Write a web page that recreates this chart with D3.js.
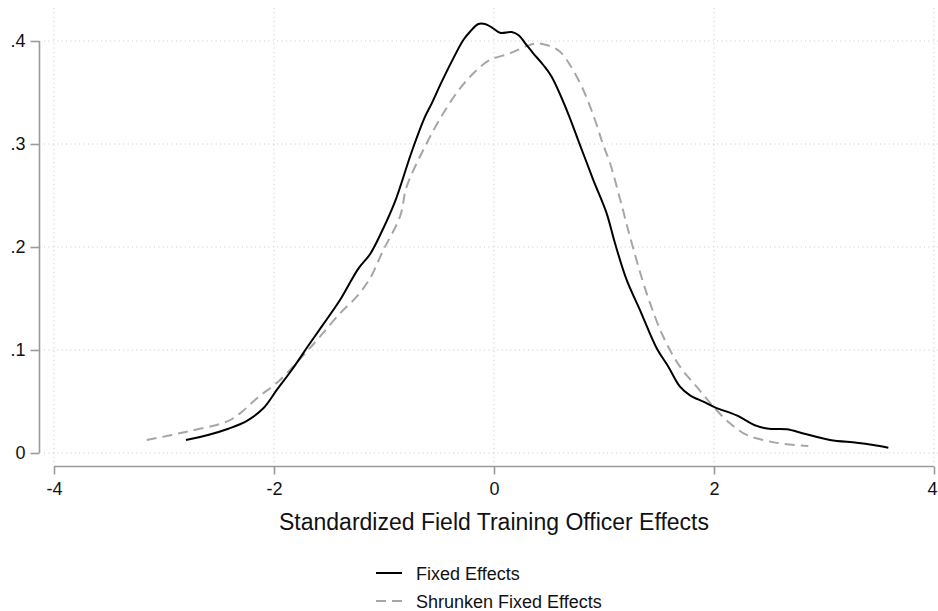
<!DOCTYPE html>
<html>
<head>
<meta charset="utf-8">
<script src="https://cdn.jsdelivr.net/npm/d3@7"></script>
<style>
  html, body { margin: 0; padding: 0; background: #fff; }
  svg { display: block; font-family: "Liberation Sans", Arial, sans-serif; }
</style>
</head>
<body>
<svg id="chart" width="938" height="611"></svg>
<script>
// ---- data ----
const xTicks = [-4, -2, 0, 2, 4];
const xTickLabels = ["-4", "-2", "0", "2", "4"];
const yTicks = [0, 0.1, 0.2, 0.3, 0.4];
const yTickLabels = ["0", ".1", ".2", ".3", ".4"];
const xTitle = "Standardized Field Training Officer Effects";
const seriesNames = ["Fixed Effects", "Shrunken Fixed Effects"];

const fixedX = [-2.80, -2.60, -2.415, -2.25, -2.097, -1.976, -1.839, -1.673, -1.567, -1.40, -1.233, -1.127, -1.02, -0.90,
  -0.748, -0.627, -0.566, -0.475, -0.385, -0.279, -0.218, -0.142, -0.082, -0.021, 0.055, 0.161, 0.221, 0.297,
  0.357, 0.448, 0.524, 0.661, 0.782, 0.903, 1.024, 1.10, 1.206, 1.327, 1.479, 1.585, 1.691, 1.782, 1.903,
  2.009, 2.206, 2.388, 2.50, 2.661, 2.812, 3.055, 3.297, 3.448, 3.585];
const fixedY = [0.0126, 0.0175, 0.0236, 0.031, 0.0434, 0.061, 0.0806, 0.1065, 0.1227, 0.1485, 0.179, 0.193, 0.215, 0.244,
  0.2925, 0.3265, 0.3395, 0.3605, 0.380, 0.401, 0.409, 0.4165, 0.4165, 0.4133, 0.408, 0.4087, 0.4058, 0.396,
  0.388, 0.3767, 0.3653, 0.333, 0.299, 0.265, 0.2327, 0.2036, 0.168, 0.1388, 0.1017, 0.0838, 0.0644, 0.056, 0.0498,
  0.0443, 0.0365, 0.0263, 0.0235, 0.023, 0.019, 0.0126, 0.010, 0.0078, 0.0052];

const shrunkX = [-3.157, -2.794, -2.43, -2.309, -2.157, -1.945, -1.703, -1.582, -1.40, -1.248, -1.127, -1.006,
  -0.855, -0.794, -0.612, -0.461, -0.309, -0.157, -0.036, 0.145, 0.297, 0.388, 0.509, 0.60, 0.691, 0.812,
  0.918, 0.99, 1.055, 1.15, 1.236, 1.388, 1.539, 1.691, 1.842, 1.994, 2.145, 2.297, 2.448, 2.60, 2.857];
const shrunkY = [0.0126, 0.0207, 0.0304, 0.0385, 0.053, 0.0709, 0.0984, 0.1129, 0.1356, 0.1518, 0.1696, 0.197,
  0.2294, 0.2585, 0.3007, 0.3298, 0.354, 0.3718, 0.3816, 0.388, 0.395, 0.3977, 0.395, 0.3896, 0.3767, 0.3524,
  0.3233, 0.30, 0.2813, 0.245, 0.21, 0.155, 0.1129, 0.0838, 0.0644, 0.045, 0.0288, 0.0175, 0.0126, 0.0094, 0.0068];

// ---- layout ----
const svg = d3.select("#chart");
const x = d3.scaleLinear().domain([-4, 4]).range([54, 934]);
const y = d3.scaleLinear().domain([0, 0.4]).range([453, 41]);

const gridColor = "#c8c8c8";
const axisColor = "#9a9a9a";
const fontStack = "'Liberation Sans', Arial, sans-serif";

// gridlines
const grid = svg.append("g");
grid.selectAll("line.h").data(yTicks).enter().append("line")
  .attr("x1", 44).attr("x2", 938)
  .attr("y1", d => y(d)).attr("y2", d => y(d))
  .attr("stroke", gridColor).attr("stroke-width", 1).attr("stroke-dasharray", "1,3.4");
grid.selectAll("line.v").data(xTicks).enter().append("line")
  .attr("y1", 8).attr("y2", 463)
  .attr("x1", d => x(d)).attr("x2", d => x(d))
  .attr("stroke", gridColor).attr("stroke-width", 1).attr("stroke-dasharray", "1,3.4");

// y axis
const yAxis = d3.axisLeft(y).tickValues(yTicks).tickSize(9).tickPadding(5)
  .tickFormat((d, i) => yTickLabels[i]);
const gy = svg.append("g").attr("transform", "translate(39.5,0)").call(yAxis);
gy.select(".domain").attr("d", `M0,${y(0.4)}V${y(0)}`);

// x axis
const xAxis = d3.axisBottom(x).tickValues(xTicks).tickSize(8).tickPadding(8)
  .tickFormat((d, i) => xTickLabels[i]);
const gx = svg.append("g").attr("transform", "translate(0,466.5)").call(xAxis);
gx.select(".domain").attr("d", `M${x(-4)},0H${x(4)}`);

[gx, gy].forEach(g => {
  g.select(".domain").attr("stroke", axisColor).attr("stroke-width", 1.6).attr("fill", "none");
  g.selectAll(".tick line").attr("stroke", axisColor).attr("stroke-width", 1.6);
  g.selectAll(".tick text").attr("fill", "#111").style("font-size", "18px")
    .style("font-family", fontStack);
});
// keep the last x label inside the canvas edge
gx.selectAll(".tick text").filter(d => d === 4).attr("dx", -2);

// x title
svg.append("text").attr("x", 494).attr("y", 530).attr("text-anchor", "middle")
  .style("font-size", "23px").style("font-family", fontStack).attr("fill", "#111").text(xTitle);

// lines
const line = d3.line().x(d => x(d[0])).y(d => y(d[1])).curve(d3.curveCatmullRom.alpha(0.5));
const shrunkData = shrunkX.map((v, i) => [v, shrunkY[i]]);
const fixedData = fixedX.map((v, i) => [v, fixedY[i]]);

svg.append("path").datum(shrunkData).attr("d", line)
  .attr("fill", "none").attr("stroke", "#a6a6a6").attr("stroke-width", 2)
  .attr("stroke-dasharray", "10,6");
svg.append("path").datum(fixedData).attr("d", line)
  .attr("fill", "none").attr("stroke", "#000").attr("stroke-width", 2);

// legend
const legend = svg.append("g");
const legendStyles = [
  { color: "#000", dash: null },
  { color: "#a6a6a6", dash: "10,6" }
];
seriesNames.forEach((name, i) => {
  const cy = 573 + i * 28;
  legend.append("line").attr("x1", 376).attr("x2", 402).attr("y1", cy).attr("y2", cy)
    .attr("stroke", legendStyles[i].color).attr("stroke-width", 2)
    .attr("stroke-dasharray", legendStyles[i].dash);
  legend.append("text").attr("x", 416).attr("y", cy + 6.5)
    .style("font-size", "18px").style("font-family", fontStack).attr("fill", "#111").text(name);
});
</script>
</body>
</html>
